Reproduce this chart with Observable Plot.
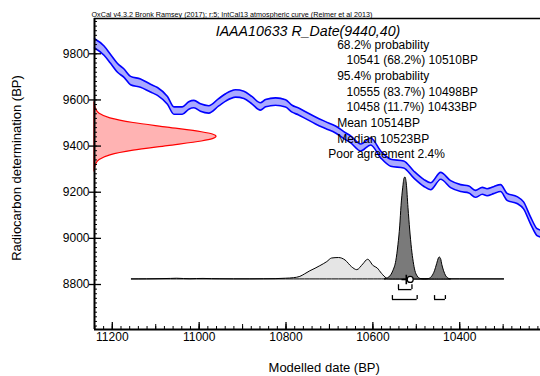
<!DOCTYPE html>
<html><head><meta charset="utf-8">
<script src="https://cdn.jsdelivr.net/npm/d3@7"></script>
<script src="https://cdn.jsdelivr.net/npm/@observablehq/plot@0.6"></script>
<style>html,body{margin:0;padding:0;background:#fff} svg{display:block}</style>
</head><body><div id="chart"></div>
<script>
// ---------- data ----------
const headerText = "OxCal v4.3.2 Bronk Ramsey (2017); r:5; IntCal13 atmospheric curve (Reimer et al 2013)";
const titleText = "IAAA10633 R_Date(9440,40)";
const xTitle = "Modelled date (BP)";
const yTitle = "Radiocarbon determination (BP)";
const xTickLabels = [11200, 11000, 10800, 10600, 10400];
const yTickLabels = [8800, 9000, 9200, 9400, 9600, 9800];

// calibration curve (IntCal13), calendar BP -> 14C BP, with 1-sigma
const curveYear = [11241, 11219, 11204, 11188, 11173, 11158, 11135, 11112, 11096, 11073,
  11058, 11039, 11024, 11012, 10997, 10978, 10955, 10939, 10916, 10897,
  10878, 10859, 10847, 10824, 10801, 10786, 10771, 10755, 10732, 10709,
  10686, 10663, 10651, 10628, 10605, 10582, 10559, 10529, 10506, 10483,
  10467, 10444, 10421, 10398, 10379, 10364, 10348, 10337, 10322, 10306,
  10291, 10268, 10253, 10237, 10222, 10214];
const curveBP = [9845, 9814, 9778, 9739, 9716, 9684, 9673, 9651, 9637, 9598,
  9554, 9554, 9576, 9582, 9567, 9559, 9590, 9611, 9628, 9622,
  9598, 9572, 9586, 9593, 9585, 9562, 9550, 9534, 9511, 9491,
  9472, 9443, 9429, 9394, 9420, 9364, 9328, 9320, 9277, 9241,
  9226, 9271, 9235, 9218, 9212, 9193, 9206, 9200, 9209, 9218,
  9180, 9166, 9143, 9078, 9027, 9021];
const curveSigma = [20, 20, 19, 19, 18, 18, 18, 17, 17, 17,
  16, 16, 16, 16, 16, 16, 16, 16, 16, 16,
  16, 16, 16, 16, 16, 15, 15, 15, 15, 15,
  15, 15, 15, 15, 15, 15, 15, 15, 15, 15,
  15, 15, 15, 15, 15, 15, 15, 15, 15, 15,
  15, 15, 15, 15, 15, 15];

// radiocarbon measurement R_Date(9440,40): relative probability
const c14BP = [9290, 9300, 9320, 9340, 9360, 9380, 9400, 9420, 9430, 9440, 9450, 9460, 9480, 9500, 9520, 9540, 9560, 9580, 9590];
const c14Rel = [0, 0.004, 0.013, 0.042, 0.13, 0.32, 0.6, 0.88, 0.97, 1.0, 0.97, 0.88, 0.6, 0.32, 0.13, 0.042, 0.013, 0.004, 0];

// likelihood (light grey) relative to posterior maximum
const likeYear = [11155, 11120, 11089, 11065, 11051, 11035, 11020, 11005, 10990, 10970,
  10951, 10920, 10882, 10850, 10824, 10800, 10782, 10767, 10756, 10744,
  10732, 10721, 10705, 10694, 10678, 10663, 10648, 10636, 10622, 10611,
  10598, 10589, 10579, 10568, 10560, 10500, 10400, 10297];
const likeRel = [0, 0.001, 0.003, 0.005, 0.007, 0.004, 0.002, 0.004, 0.005, 0.003,
  0.002, 0.001, 0.001, 0.002, 0.003, 0.007, 0.012, 0.025, 0.05, 0.08,
  0.105, 0.13, 0.17, 0.205, 0.21, 0.186, 0.12, 0.091, 0.147, 0.193,
  0.13, 0.108, 0.055, 0.01, 0.002, 0.001, 0.001, 0];

// posterior (dark grey)
const postYear = [10572, 10562, 10553, 10546, 10541, 10537, 10534, 10530, 10527, 10525,
  10522, 10518, 10514, 10510, 10506, 10502, 10497, 10490, 10480, 10470,
  10463, 10457, 10452, 10448, 10446, 10443, 10440, 10436, 10431, 10426, 10420];
const postRel = [0, 0.02, 0.08, 0.18, 0.34, 0.52, 0.72, 0.9, 0.99, 1.0,
  0.94, 0.7, 0.48, 0.3, 0.17, 0.08, 0.03, 0.005, 0, 0.005,
  0.03, 0.08, 0.15, 0.205, 0.215, 0.2, 0.14, 0.08, 0.03, 0.008, 0];

const range68 = [{from: 10541, to: 10510, pct: 68.2}];
const range95 = [{from: 10555, to: 10498, pct: 83.7}, {from: 10458, to: 10433, pct: 11.7}];
const meanBP = 10514;
const medianBP = 10523;
const agreement = 2.4;

// ---------- layout ----------
const xDomain = [11241, 10214];
const yDomain = [8605, 9953];
const distBase = 8822;     // baseline of calibrated distribution (14C units)
const distScale = 442;     // height of posterior peak (14C units)
const c14Width = 281;      // width of measurement distribution (calendar years)
const lvl68 = [8778, 8799];
const lvl95 = [8735, 8752];
const FONT = "Liberation Sans, Arial, Helvetica, sans-serif";

const curve = curveYear.map((yr, i) => ({year: yr, bp: curveBP[i], lo: curveBP[i] - curveSigma[i], hi: curveBP[i] + curveSigma[i]}));
const c14 = c14BP.map((b, i) => ({bp: b, x2: xDomain[0] - c14Rel[i] * c14Width}));
const like = likeYear.map((yr, i) => ({year: yr, top: distBase + likeRel[i] * distScale}));
const post = postYear.map((yr, i) => ({year: yr, top: distBase + postRel[i] * distScale}));

const fmtRange = r => `${r.from} (${r.pct}%) ${r.to}BP`;
const legend = [
  {t: "68.2% probability", x: 242.7},
  ...range68.map(r => ({t: fmtRange(r), x: 252})),
  {t: "95.4% probability", x: 242.7},
  ...range95.map(r => ({t: fmtRange(r), x: 252})),
  {t: `Mean ${meanBP}BP`, x: 242.7},
  {t: `Median ${medianBP}BP`, x: 242.7},
  {t: `Poor agreement ${agreement}%`, x: 233.7}
].map((d, i) => ({...d, y: 30.3 + i * 15.65}));

const yMinor = d3.range(8620, 9953, 20);
const xMinor = d3.range(10220, 11241, 20);
const xMedium = d3.range(10300, 11241, 100);

const brackets = (ranges, lvl) => [
  Plot.ruleY(ranges, {y: () => lvl[0], x1: "from", x2: "to", stroke: "black", strokeWidth: 1.3}),
  Plot.ruleX(ranges.flatMap(r => [r.from, r.to]), {x: d => d, y1: () => lvl[0], y2: () => lvl[1], stroke: "black", strokeWidth: 1.3})
];

const textMark = (str, opts) => Plot.text([str], {text: d => d, frameAnchor: "top-left", textAnchor: "start", lineAnchor: "bottom", fill: "black", ...opts});

const chart = Plot.plot({
  width: 540, height: 376,
  marginLeft: 94, marginRight: 0, marginTop: 18, marginBottom: 47,
  style: {fontFamily: FONT, fontSize: "12px", background: "white", color: "black", overflow: "visible"},
  x: {domain: xDomain},
  y: {domain: yDomain},
  marks: [
    // calibration curve band
    Plot.areaY(curve, {x: "year", y1: "lo", y2: "hi", fill: "#aaaaff", curve: "monotone-x"}),
    Plot.line(curve, {x: "year", y: "hi", stroke: "#0000ff", strokeWidth: 1.6, curve: "monotone-x"}),
    Plot.line(curve, {x: "year", y: "lo", stroke: "#0000ff", strokeWidth: 1.6, curve: "monotone-x"}),
    // measurement
    Plot.areaX(c14, {y: "bp", x1: () => xDomain[0], x2: "x2", fill: "#ffb3b3", stroke: "#ff0000", strokeWidth: 1.2, curve: "monotone-y"}),
    // calibrated distributions
    Plot.areaY(like, {x: "year", y1: () => distBase, y2: "top", fill: "#e5e5e5", stroke: "black", strokeWidth: 1, curve: "monotone-x"}),
    Plot.areaY(post, {x: "year", y1: () => distBase, y2: "top", fill: "#7a7a7a", stroke: "black", strokeWidth: 1, curve: "monotone-x"}),
    ...brackets(range68, lvl68),
    ...brackets(range95, lvl95),
    Plot.dot([medianBP], {x: d => d, y: () => distBase, symbol: "plus", r: 3.2, stroke: "black", strokeWidth: 1.6}),
    Plot.dot([meanBP], {x: d => d, y: () => distBase, r: 3, fill: "white", stroke: "black", strokeWidth: 1.2}),
    // frame
    Plot.ruleY([yDomain[1]], {stroke: "black", strokeWidth: 1.5}),
    Plot.ruleY([yDomain[0]], {stroke: "black", strokeWidth: 2}),
    Plot.ruleX([xDomain[0]], {stroke: "black", strokeWidth: 2}),
    // axes
    Plot.axisY({ticks: yTickLabels, tickSize: 5, tickPadding: 0, tickFormat: "d", label: null, strokeWidth: 1.3}),
    Plot.axisY({ticks: yTickLabels, tickSize: 7, dx: 7, fill: "none", strokeWidth: 1.3}),
    Plot.axisY({ticks: yMinor, tickSize: 3, dx: 3, fill: "none", strokeWidth: 1}),
    Plot.axisX({ticks: xTickLabels, tickSize: 0, tickPadding: 3, tickFormat: "d", label: null}),
    Plot.axisX({ticks: xTickLabels, tickSize: 7, dy: -7, fill: "none", strokeWidth: 1.3}),
    Plot.axisX({ticks: xMedium, tickSize: 5, dy: -5, fill: "none", strokeWidth: 1}),
    Plot.axisX({ticks: xMinor, tickSize: 3, dy: -3, fill: "none", strokeWidth: 1}),
    // texts
    textMark(headerText, {dx: -3, dy: -2, fontSize: 7.2}),
    Plot.text([titleText], {text: d => d, frameAnchor: "top-left", dx: 213.5, dy: 17, textAnchor: "middle", lineAnchor: "bottom", fontSize: 14.2, fontStyle: "italic", fill: "black"}),
    ...legend.map(d => textMark(d.t, {dx: d.x, dy: d.y, fontSize: 12})),
    Plot.text([yTitle], {text: d => d, frameAnchor: "top-left", dx: -78, dy: 149.5, rotate: -90, textAnchor: "middle", lineAnchor: "middle", fontSize: 13, fill: "black"}),
    Plot.text([xTitle], {text: d => d, frameAnchor: "top-left", dx: 229.7, dy: 353, textAnchor: "middle", lineAnchor: "bottom", fontSize: 13, fill: "black"})
  ]
});
document.getElementById("chart").appendChild(chart);
</script>
</body></html>
